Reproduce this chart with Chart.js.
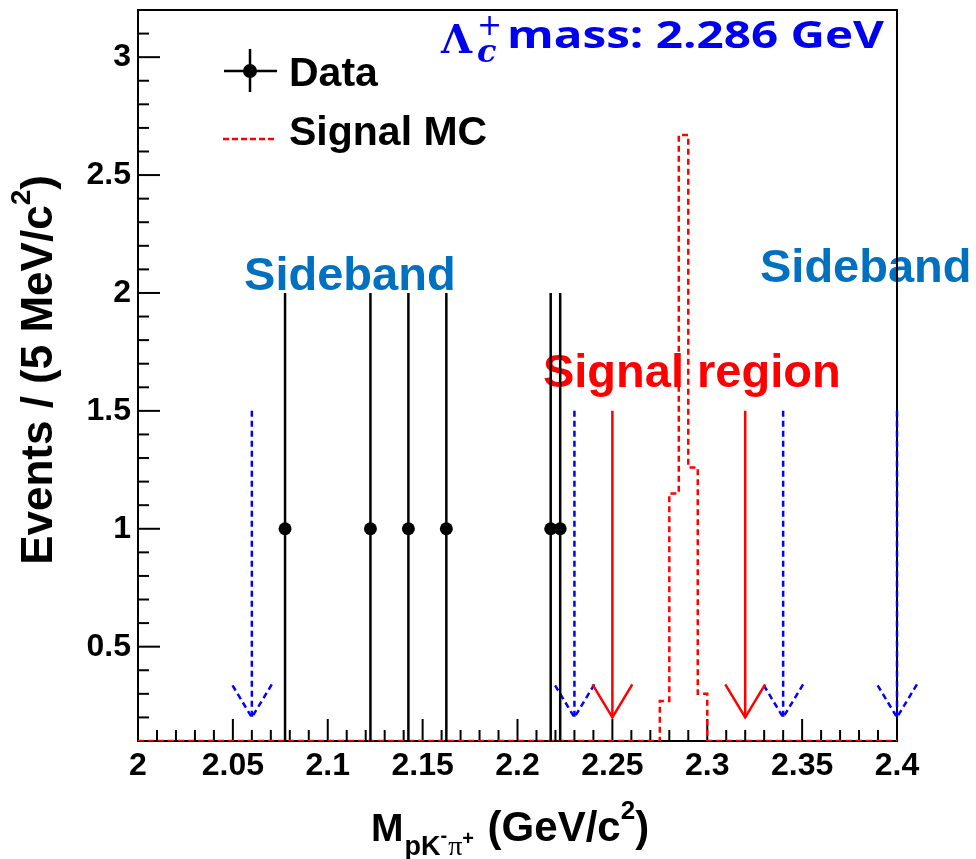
<!DOCTYPE html>
<html>
<head>
<meta charset="utf-8">
<script src="https://cdn.jsdelivr.net/npm/chart.js@4.4.0/dist/chart.umd.min.js"></script>
<style>
  body { margin: 0; background: #fff; }
</style>
</head>
<body>
<canvas id="myChart" width="976" height="859"></canvas>
<script>
// values
const dataX = [2.0775, 2.1225, 2.1425, 2.1625, 2.2175, 2.2225];
const dataY = [1, 1, 1, 1, 1, 1];
const dataErr = [1, 1, 1, 1, 1, 1];

const mcEdges = [2.0, 2.275, 2.28, 2.285, 2.29, 2.295, 2.30, 2.40];
const mcCounts = [0, 0.27, 1.15, 2.67, 1.26, 0.30, 0];

const sidebandArrows = [2.06, 2.23, 2.34, 2.40];
const signalArrows = [2.25, 2.32];
const arrowTop = 1.5;
const arrowTip = 0.2;
const arrowWing = 0.34;
const arrowHalf = 0.0105;

const xTicks = [2, 2.05, 2.1, 2.15, 2.2, 2.25, 2.3, 2.35, 2.4];
const xTickLabels = ["2", "2.05", "2.1", "2.15", "2.2", "2.25", "2.3", "2.35", "2.4"];
const yTicks = [0.5, 1, 1.5, 2, 2.5, 3];
const yTickLabels = ["0.5", "1", "1.5", "2", "2.5", "3"];

const noteTexts = ["Sideband", "Sideband", "Signal region"];
const noteX = [2.0559, 2.3278, 2.2134];
const noteY = [2.013, 2.047, 1.602];
const noteColors = ["#0070c0", "#0070c0", "#ff0000"];

const xMin = 2.0, xMax = 2.4, yMin = 0.1, yMax = 3.2;

const FONT = '"Liberation Sans", Arial, sans-serif';
const charter = document.querySelector("#myChart");

const line = (ctx, x1, y1, x2, y2) => {
    ctx.beginPath();
    ctx.moveTo(x1, y1);
    ctx.lineTo(x2, y2);
    ctx.stroke();
};

// draw pieces of text one after another (for sub/superscripts)
const drawPieces = (ctx, pieces, x, y) => {
    pieces.forEach((p) => {
        ctx.font = p.font;
        ctx.fillText(p.text, x, y + (p.dy || 0));
        x += ctx.measureText(p.text).width + (p.gap || 0);
    });
    return x;
};

const piecesWidth = (ctx, pieces) => {
    let w = 0;
    pieces.forEach((p) => {
        ctx.font = p.font;
        w += ctx.measureText(p.text).width + (p.gap || 0);
    });
    return w;
};

const minorTicks = (majors, min, max) => {
    const step = majors[1] - majors[0];
    const out = [];
    for (let m = majors[0] - step; m <= majors[majors.length - 1] + step; m += step) {
        for (let k = 1; k < 5; k++) {
            const v = m + (k * step) / 5;
            if (v >= min - 1e-9 && v <= max + 1e-9) out.push(v);
        }
    }
    return out;
};

const rootFrame = {
    id: "rootFrame",
    beforeDatasetsDraw(chart) {
        const { ctx, chartArea: a, scales } = chart;
        const xs = scales.x, ys = scales.y;
        ctx.save();

        // region labels
        ctx.font = "bold 47px " + FONT;
        ctx.textAlign = "left";
        ctx.textBaseline = "alphabetic";
        noteTexts.forEach((t, i) => {
            ctx.fillStyle = noteColors[i];
            ctx.fillText(t, xs.getPixelForValue(noteX[i]), ys.getPixelForValue(noteY[i]));
        });

        // frame and inner ticks
        ctx.strokeStyle = "#000";
        ctx.lineWidth = 2;
        ctx.strokeRect(a.left, a.top, a.right - a.left, a.bottom - a.top);

        xTicks.forEach((v) => {
            const px = xs.getPixelForValue(v);
            line(ctx, px, a.bottom, px, a.bottom - 22);
        });
        minorTicks(xTicks, xMin, xMax).forEach((v) => {
            const px = xs.getPixelForValue(v);
            line(ctx, px, a.bottom, px, a.bottom - 11);
        });
        yTicks.forEach((v) => {
            const py = ys.getPixelForValue(v);
            line(ctx, a.left, py, a.left + 22, py);
        });
        minorTicks(yTicks, yMin, yMax).forEach((v) => {
            const py = ys.getPixelForValue(v);
            line(ctx, a.left, py, a.left + 11, py);
        });
        ctx.restore();
    },
    afterDatasetsDraw(chart) {
        const { ctx } = chart;
        ctx.save();
        ctx.textBaseline = "alphabetic";
        ctx.textAlign = "left";
        ctx.fillStyle = "#000";

        // legend
        ctx.strokeStyle = "#000";
        ctx.lineWidth = 2.5;
        line(ctx, 224, 71, 277, 71);
        line(ctx, 250, 49, 250, 92);
        ctx.beginPath();
        ctx.arc(250, 71, 7, 0, Math.PI * 2);
        ctx.fill();
        ctx.font = "bold 41px " + FONT;
        ctx.fillText("Data", 289, 86);
        ctx.fillText("Signal MC", 289, 145);
        ctx.strokeStyle = "#ff0000";
        ctx.setLineDash([6, 3]);
        line(ctx, 223, 139, 277, 139);
        ctx.setLineDash([]);

        // x title
        const big = "bold 39px " + FONT;
        const paren = "bold 42px " + FONT;
        const sub = "bold 27px " + FONT;
        const tiny = "bold 20px " + FONT;
        drawPieces(ctx, [
            { text: "M", font: big, gap: 1 },
            { text: "pK", font: sub, dy: 14 },
            { text: "-", font: tiny, dy: 1, gap: 1 },
            { text: "\u03c0", font: '28px "Liberation Serif", serif', dy: 14 },
            { text: "+", font: tiny, dy: 4, gap: 2 },
            { text: " (GeV/c", font: paren },
            { text: "2", font: "bold 26px " + FONT, dy: -22 },
            { text: ")", font: paren },
        ], 371, 841);

        // y title
        const yPieces = [
            { text: "Events / (5 MeV/c", font: "bold 44px " + FONT },
            { text: "2", font: "bold 28px " + FONT, dy: -22 },
            { text: ")", font: "bold 44px " + FONT },
        ];
        ctx.save();
        ctx.translate(52, 370);
        ctx.rotate(-Math.PI / 2);
        drawPieces(ctx, yPieces, -piecesWidth(ctx, yPieces) / 2, 0);
        ctx.restore();

        // Lambda_c mass label
        ctx.fillStyle = "#0000f0";
        ctx.font = 'bold 40px "DejaVu Serif", serif';
        ctx.fillText("\u039b", 441, 53);
        ctx.font = 'italic bold 32px "DejaVu Serif", serif';
        ctx.fillText("c", 477, 62);
        ctx.font = '30px "DejaVu Sans", sans-serif';
        ctx.fillText("+", 477, 35);
        ctx.font = 'bold 38px "Open Sans", sans-serif';
        const massText = "mass: 2.286 GeV";
        const w = ctx.measureText(massText).width;
        ctx.save();
        ctx.translate(507, 48);
        ctx.scale(377 / w, 1);
        ctx.fillText(massText, 0, 0);
        ctx.restore();

        ctx.restore();
    },
};

// datasets built from the arrays above
const pointSet = {
    type: "scatter",
    data: dataX.map((x, i) => ({ x, y: dataY[i] })),
    pointRadius: 6.5,
    pointBackgroundColor: "#000",
    pointBorderWidth: 0,
};

const errorSets = dataX.map((x, i) => ({
    type: "line",
    data: [{ x, y: dataY[i] - dataErr[i] }, { x, y: dataY[i] + dataErr[i] }],
    borderColor: "#000",
    borderWidth: 2.5,
    pointRadius: 0,
    clip: 0,
}));

const mcPoints = mcCounts.map((c, i) => ({ x: mcEdges[i], y: Math.max(c, yMin) }));
mcPoints.push({ x: mcEdges[mcEdges.length - 1], y: Math.max(mcCounts[mcCounts.length - 1], yMin) });

const mcSet = {
    type: "line",
    data: mcPoints,
    stepped: "before",
    borderColor: "#ff0000",
    borderWidth: 2.5,
    borderDash: [6, 4],
    pointRadius: 0,
    fill: false,
};

// arrow heads listed right-to-left so points past the axis end are still drawn
const arrowSets = (xs, color, dash) => xs.flatMap((x) => [
    {
        type: "line",
        data: [{ x, y: arrowTop }, { x, y: arrowTip }],
        borderColor: color, borderWidth: 2.5, borderDash: dash, pointRadius: 0, clip: false,
    },
    {
        type: "line",
        data: [{ x: x + arrowHalf, y: arrowWing }, { x, y: arrowTip }, { x: x - arrowHalf, y: arrowWing }],
        borderColor: color, borderWidth: 2.5, borderDash: dash, pointRadius: 0, clip: false,
    },
]);

const noPad = (scale) => {
    scale.paddingTop = 0;
    scale.paddingBottom = 0;
    scale.paddingLeft = 0;
    scale.paddingRight = 0;
};

const config = {
    type: "scatter",
    data: {
        datasets: [
            pointSet,
            ...errorSets,
            mcSet,
            ...arrowSets(signalArrows, "#ff0000", []),
            ...arrowSets(sidebandArrows, "#0000ff", [6, 4]),
        ],
    },
    options: {
        responsive: false,
        animation: false,
        events: [],
        layout: { padding: { left: 0, right: 79, top: 10, bottom: 0 } },
        plugins: { legend: { display: false }, tooltip: { enabled: false } },
        scales: {
            x: {
                type: "linear",
                min: xMin,
                max: xMax,
                grid: { display: false, drawTicks: false },
                border: { display: false },
                afterBuildTicks: (scale) => { scale.ticks = xTicks.map((v) => ({ value: v })); },
                afterFit: (scale) => { scale.height = 118; noPad(scale); },
                ticks: {
                    autoSkip: false,
                    maxRotation: 0,
                    padding: 6,
                    color: "#000",
                    font: { family: FONT, weight: "bold", size: 32 },
                    callback: (v, i) => xTickLabels[i],
                },
            },
            y: {
                type: "linear",
                min: yMin,
                max: yMax,
                grid: { display: false, drawTicks: false },
                border: { display: false },
                afterBuildTicks: (scale) => { scale.ticks = yTicks.map((v) => ({ value: v })); },
                afterFit: (scale) => { scale.width = 138; noPad(scale); },
                ticks: {
                    autoSkip: false,
                    padding: 7,
                    color: "#000",
                    font: { family: FONT, weight: "bold", size: 32 },
                    callback: (v, i) => yTickLabels[i],
                },
            },
        },
    },
    plugins: [rootFrame],
};

const myChart = new Chart(charter, config);
</script>
</body>
</html>
